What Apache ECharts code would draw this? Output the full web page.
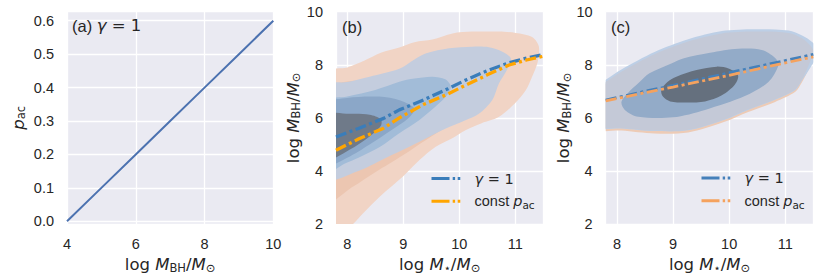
<!DOCTYPE html>
<html>
<head>
<meta charset="utf-8">
<script src="https://cdn.jsdelivr.net/npm/echarts@6/dist/echarts.min.js"></script>
<style>html,body{margin:0;padding:0;background:#fff;}#c{width:830px;height:274px;}</style>
</head>
<body>
<div id="c"></div>
<script>
// ---------- data ----------
// panel (a): p_ac vs log M_BH
const aX = [4, 5, 6, 7, 8, 9, 10];
const aY = [0.0, 0.1, 0.2, 0.3, 0.4, 0.5, 0.6];

// panel (b) mean relations
const bLineX = [7.8, 8.2, 8.65, 8.93, 9.36, 9.8, 10.12, 10.5, 10.89, 11.2, 11.5];
const bGamma = [5.28, 5.6, 5.98, 6.3, 6.67, 7.1, 7.43, 7.78, 8.08, 8.25, 8.39];
const bConst = [4.78, 5.2, 5.61, 6.0, 6.5, 6.9, 7.24, 7.62, 7.99, 8.18, 8.32];

// panel (c) mean relations
const cLineX = [7.8, 8.5, 9.0, 9.5, 10.0, 10.5, 11.0, 11.5];
const cGamma = [6.67, 7.0, 7.22, 7.46, 7.7, 7.93, 8.16, 8.39];
const cConst = [6.64, 6.95, 7.16, 7.38, 7.6, 7.84, 8.07, 8.30];

// panel (b) density contours (log M*, log M_BH)
const bOrangeOuter = [[7.6,7.7],[8.0,7.9],[8.3,8.15],[8.6,8.45],[8.93,8.65],[9.2,8.85],[9.52,8.95],[9.88,9.18],[10.23,9.25],[10.71,9.25],[11.01,9.2],[11.3,9.05],[11.42,8.7],[11.40,8.1],[11.30,7.55],[11.19,7.05],[11.0,6.56],[10.71,6.04],[10.4,5.8],[10.12,5.54],[9.85,5.2],[9.58,4.91],[9.29,4.41],[8.99,3.78],[8.58,3.03],[8.28,2.40],[8.05,1.9],[7.6,1.3]];
const bOrangeMid = [[7.6,7.0],[8.5,7.5],[9.3,7.9],[10.0,8.2],[10.5,8.2],[10.75,7.8],[10.6,7.0],[10.3,6.4],[10.0,5.95],[9.5,5.3],[9.0,4.6],[8.5,3.95],[8.1,3.4],[7.6,2.8]];
const bBlueOuter = [[7.6,7.2],[8.0,7.35],[8.4,7.55],[8.93,7.85],[9.2,8.2],[9.41,8.43],[9.82,8.62],[10.23,8.68],[10.53,8.66],[10.77,8.49],[10.92,8.24],[10.85,7.80],[10.71,7.30],[10.59,6.67],[10.35,6.15],[10.1,5.9],[9.76,5.6],[9.29,5.1],[8.65,4.45],[8.2,4.0],[7.6,3.7]];
const bBlueMid = [[7.6,6.6],[8.0,6.8],[8.5,7.05],[8.93,7.36],[9.2,7.48],[9.52,7.55],[9.75,7.45],[9.85,7.18],[9.78,6.85],[9.64,6.55],[9.29,5.92],[8.93,5.42],[8.58,4.9],[8.2,4.5],[7.98,4.3],[7.6,3.95]];
const bBlueInnerMid = [[7.6,6.5],[8.0,6.75],[8.57,6.8],[8.95,6.65],[9.2,6.35],[9.1,6.0],[8.8,5.55],[8.4,5.0],[8.0,4.5],[7.6,4.2]];
const bBlueInner = [[7.6,6.1],[8.04,6.15],[8.40,6.12],[8.6,5.95],[8.6,5.7],[8.40,5.3],[8.04,4.8],[7.6,4.4]];

// panel (c) density contours
const cOrangeOuter = [[7.6,7.15],[7.8,7.3],[8.08,7.68],[8.67,8.34],[9.27,8.82],[9.87,9.12],[10.46,9.2],[11.06,9.14],[11.3,8.95],[11.45,8.65],[11.5,8.3],[11.42,7.85],[11.3,7.35],[11.18,6.98],[10.82,6.6],[10.34,6.22],[9.92,5.85],[9.27,5.45],[8.67,5.41],[8.08,5.52],[7.6,5.6]];
const cBlueOuter = [[7.6,7.28],[7.8,7.44],[8.08,7.82],[8.67,8.48],[9.27,8.96],[9.87,9.27],[10.46,9.34],[11.06,9.29],[11.3,9.1],[11.5,8.82],[11.6,8.5],[11.45,7.9],[11.30,7.42],[11.18,7.05],[10.82,6.68],[10.34,6.3],[9.92,5.93],[9.27,5.53],[8.67,5.5],[8.08,5.6],[7.6,5.68]];
const cCommonOuter = [[7.6,7.2],[7.8,7.36],[8.08,7.74],[8.67,8.4],[9.27,8.88],[9.87,9.18],[10.46,9.25],[11.06,9.2],[11.3,9.0],[11.45,8.72],[11.5,8.5],[11.42,8.0],[11.30,7.45],[11.18,7.08],[10.82,6.7],[10.34,6.32],[9.92,5.95],[9.27,5.55],[8.67,5.52],[8.08,5.62],[7.6,5.7]];
const cMid = [[8.08,6.6],[8.2,6.95],[8.38,7.3],[8.58,7.68],[8.97,8.05],[9.18,8.24],[9.66,8.45],[10.16,8.6],[10.58,8.56],[10.82,8.26],[10.88,7.99],[10.70,7.35],[10.28,6.82],[9.57,6.3],[9.0,6.02],[8.38,6.04],[8.14,6.3]];
const cInner = [[8.79,7.05],[8.9,7.35],[9.06,7.55],[9.42,7.80],[9.78,7.93],[10.0,7.85],[10.16,7.6],[10.1,7.25],[9.87,6.85],[9.57,6.62],[9.24,6.58],[8.95,6.62],[8.82,6.8]];

// ---------- style ----------
const FONT = 'Liberation Sans';
const MATH = 'DejaVu Sans';
const TXT = '#262626';
const BG = '#EAEAF2';
const chart = echarts.init(document.getElementById('c'), null, {renderer: 'svg'});

const sub = {fontSize: 11.5, fontFamily: MATH, color: TXT, lineHeight: 12, padding: [6, 0, 0, 0]};
const ital = {fontStyle: 'italic', fontFamily: MATH, color: TXT};

function zipXY(xs, ys) { return xs.map((x, i) => [x, ys[i]]); }

function poly(points, color, gi, z) {
  return {
    type: 'custom', xAxisIndex: gi, yAxisIndex: gi, silent: true, z: z,
    data: points,
    renderItem: function (params, api) {
      if (params.dataIndex !== 0) return null;
      const pts = points.map(p => api.coord(p));
      const cs = params.coordSys;
      return {
        type: 'polygon',
        shape: {points: pts, smooth: 0.3},
        style: {fill: color, stroke: null},
        clipPath: {type: 'rect', shape: {x: cs.x, y: cs.y, width: cs.width, height: cs.height}}
      };
    }
  };
}

const nameStyle = {fontSize: 16.5, lineHeight: 18, color: TXT, fontFamily: MATH,
  rich: {i: Object.assign({fontSize: 16.5, lineHeight: 18}, ital), s: sub}};

function xAxisBase(gi, min, max, nameRich) {
  return {
    gridIndex: gi, type: 'value', min: min, max: max,
    axisLine: {show: false}, axisTick: {show: false},
    splitLine: {show: true, lineStyle: {color: '#fff', width: 1.3}},
    axisLabel: {fontSize: 14.5, color: TXT, fontFamily: FONT, margin: 12, showMinLabel: gi === 0, showMaxLabel: gi === 0},
    name: nameRich, nameLocation: 'middle', nameGap: 31,
    nameTextStyle: nameStyle
  };
}
function yAxisBase(gi, min, max, nameRich, gap) {
  return {
    gridIndex: gi, type: 'value', min: min, max: max,
    axisLine: {show: false}, axisTick: {show: false},
    splitLine: {show: true, lineStyle: {color: '#fff', width: 1.3}},
    axisLabel: {fontSize: 14.5, color: TXT, fontFamily: FONT, margin: 13},
    name: nameRich, nameLocation: 'middle', nameGap: gap,
    nameTextStyle: nameStyle
  };
}

const xA = xAxisBase(0, 4, 10, 'log {i|M}{s|BH}/{i|M}{s|⊙}');
xA.interval = 2;
const xB = xAxisBase(1, 7.8, 11.5, 'log {i|M}{s|⋆}/{i|M}{s|⊙}');
xB.minInterval = 1; xB.maxInterval = 1;
const xC = xAxisBase(2, 7.8, 11.5, 'log {i|M}{s|⋆}/{i|M}{s|⊙}');
xC.minInterval = 1; xC.maxInterval = 1;

const yA = yAxisBase(0, -0.008, 0.627, '{i|p}{s|ac}', 40);
yA.minInterval = 0.1; yA.maxInterval = 0.1;
yA.axisLabel.showMinLabel = false; yA.axisLabel.showMaxLabel = false;
yA.axisLabel.formatter = v => (Math.abs(v) < 1e-9 ? 0 : v).toFixed(1);
const yB = yAxisBase(1, 2, 10, 'log {i|M}{s|BH}/{i|M}{s|⊙}', 34);
yB.interval = 2;
const yC = yAxisBase(2, 2, 10, 'log {i|M}{s|BH}/{i|M}{s|⊙}', 33);
yC.interval = 2;

const LINE_DASH = [11, 3.5, 3, 3.5];
const LEG_DASH = [18, 3.2, 2.4, 2.6, 2.6, 30];

const legendText = {
  fontSize: 14.5, color: TXT, fontFamily: FONT, padding: [0, 0, 0, 8],
  rich: {i: Object.assign({fontSize: 14.5}, ital), m: {fontSize: 14.5, fontFamily: MATH, color: TXT},
         s: {fontSize: 10.5, fontFamily: MATH, color: TXT, padding: [8, 0, 0, 0]}}
};
function legFmt(name) { return name.slice(2) === 'g' ? '{i|γ}{m| = 1}' : 'const {i|p}{s|ac}'; }

const labelStyle = {fontSize: 16.5, fontWeight: 'normal', color: TXT, fontFamily: FONT,
  rich: {g: Object.assign({fontSize: 16.5}, ital), m: {fontSize: 16.5, fontFamily: MATH, color: TXT}}};

function legItem(name) {
  return {name: name, lineStyle: {type: LEG_DASH, width: 3}, itemStyle: {opacity: 0}};
}

function gridBox(left, width) {
  return {left: left, top: 11.7, width: width, height: 212.3, show: true, backgroundColor: BG, borderWidth: 0,
          containLabel: false, outerBoundsMode: 'none'};
}

const option = {
  animation: false,
  backgroundColor: '#fff',
  title: [
    {text: '(a) {g|γ}{m| = 1}', left: 72, top: 17, padding: 0, textStyle: labelStyle},
    {text: '(b)', left: 342, top: 18, padding: 0, textStyle: labelStyle},
    {text: '(c)', left: 611, top: 18, padding: 0, textStyle: labelStyle}
  ],
  grid: [gridBox(67, 206.3), gridBox(336, 207.3), gridBox(605.7, 207.6)],
  xAxis: [xA, xB, xC],
  yAxis: [yA, yB, yC],
  legend: [
    {data: [legItem('b_g'), legItem('b_c')],
     orient: 'vertical', left: 425, top: 166, itemWidth: 30, itemHeight: 14, itemGap: 7.7,
     formatter: legFmt, textStyle: legendText, selectedMode: false},
    {data: [legItem('c_g'), legItem('c_c')],
     orient: 'vertical', left: 695, top: 165.5, itemWidth: 30, itemHeight: 14, itemGap: 7.7,
     formatter: legFmt, textStyle: legendText, selectedMode: false}
  ],
  series: [
    {type: 'line', name: 'a', xAxisIndex: 0, yAxisIndex: 0, data: zipXY(aX, aY), symbol: 'none',
     lineStyle: {color: '#4C72B0', width: 2}, z: 10},

    poly(bOrangeOuter, '#F1D4C5', 1, 2),
    poly(bOrangeMid, '#ECC6B1', 1, 3),
    poly(bBlueOuter, '#C4CDDE', 1, 4),
    poly(bBlueMid, '#A2BCD8', 1, 5),
    poly(bBlueInnerMid, '#8BA7C8', 1, 6),
    poly(bBlueInner, '#6F7A89', 1, 7),

    poly(cOrangeOuter, '#EDCBB6', 2, 2),
    poly(cBlueOuter, '#BDCFE6', 2, 3),
    poly(cCommonOuter, '#C4C9D7', 2, 4),
    poly(cMid, '#93ABC8', 2, 5),
    poly(cInner, '#65707E', 2, 6),

    {type: 'line', name: 'b_g', xAxisIndex: 1, yAxisIndex: 1, data: zipXY(bLineX, bGamma), symbol: 'circle', showSymbol: false,
     itemStyle: {color: '#3A7DBA'}, lineStyle: {color: '#3A7DBA', width: 3.3, type: LINE_DASH}, z: 10},
    {type: 'line', name: 'b_c', xAxisIndex: 1, yAxisIndex: 1, data: zipXY(bLineX, bConst), symbol: 'circle', showSymbol: false,
     itemStyle: {color: '#FFA500'}, lineStyle: {color: '#FFA500', width: 3.3, type: LINE_DASH}, z: 11},
    {type: 'line', name: 'c_g', xAxisIndex: 2, yAxisIndex: 2, data: zipXY(cLineX, cGamma), symbol: 'circle', showSymbol: false,
     itemStyle: {color: '#4580BA'}, lineStyle: {color: '#4580BA', width: 2.8, type: LINE_DASH}, z: 10},
    {type: 'line', name: 'c_c', xAxisIndex: 2, yAxisIndex: 2, data: zipXY(cLineX, cConst), symbol: 'circle', showSymbol: false,
     itemStyle: {color: '#F5A25E'}, lineStyle: {color: '#F5A25E', width: 2.8, type: LINE_DASH}, z: 11}
  ]
};
chart.setOption(option);
</script>
</body>
</html>
